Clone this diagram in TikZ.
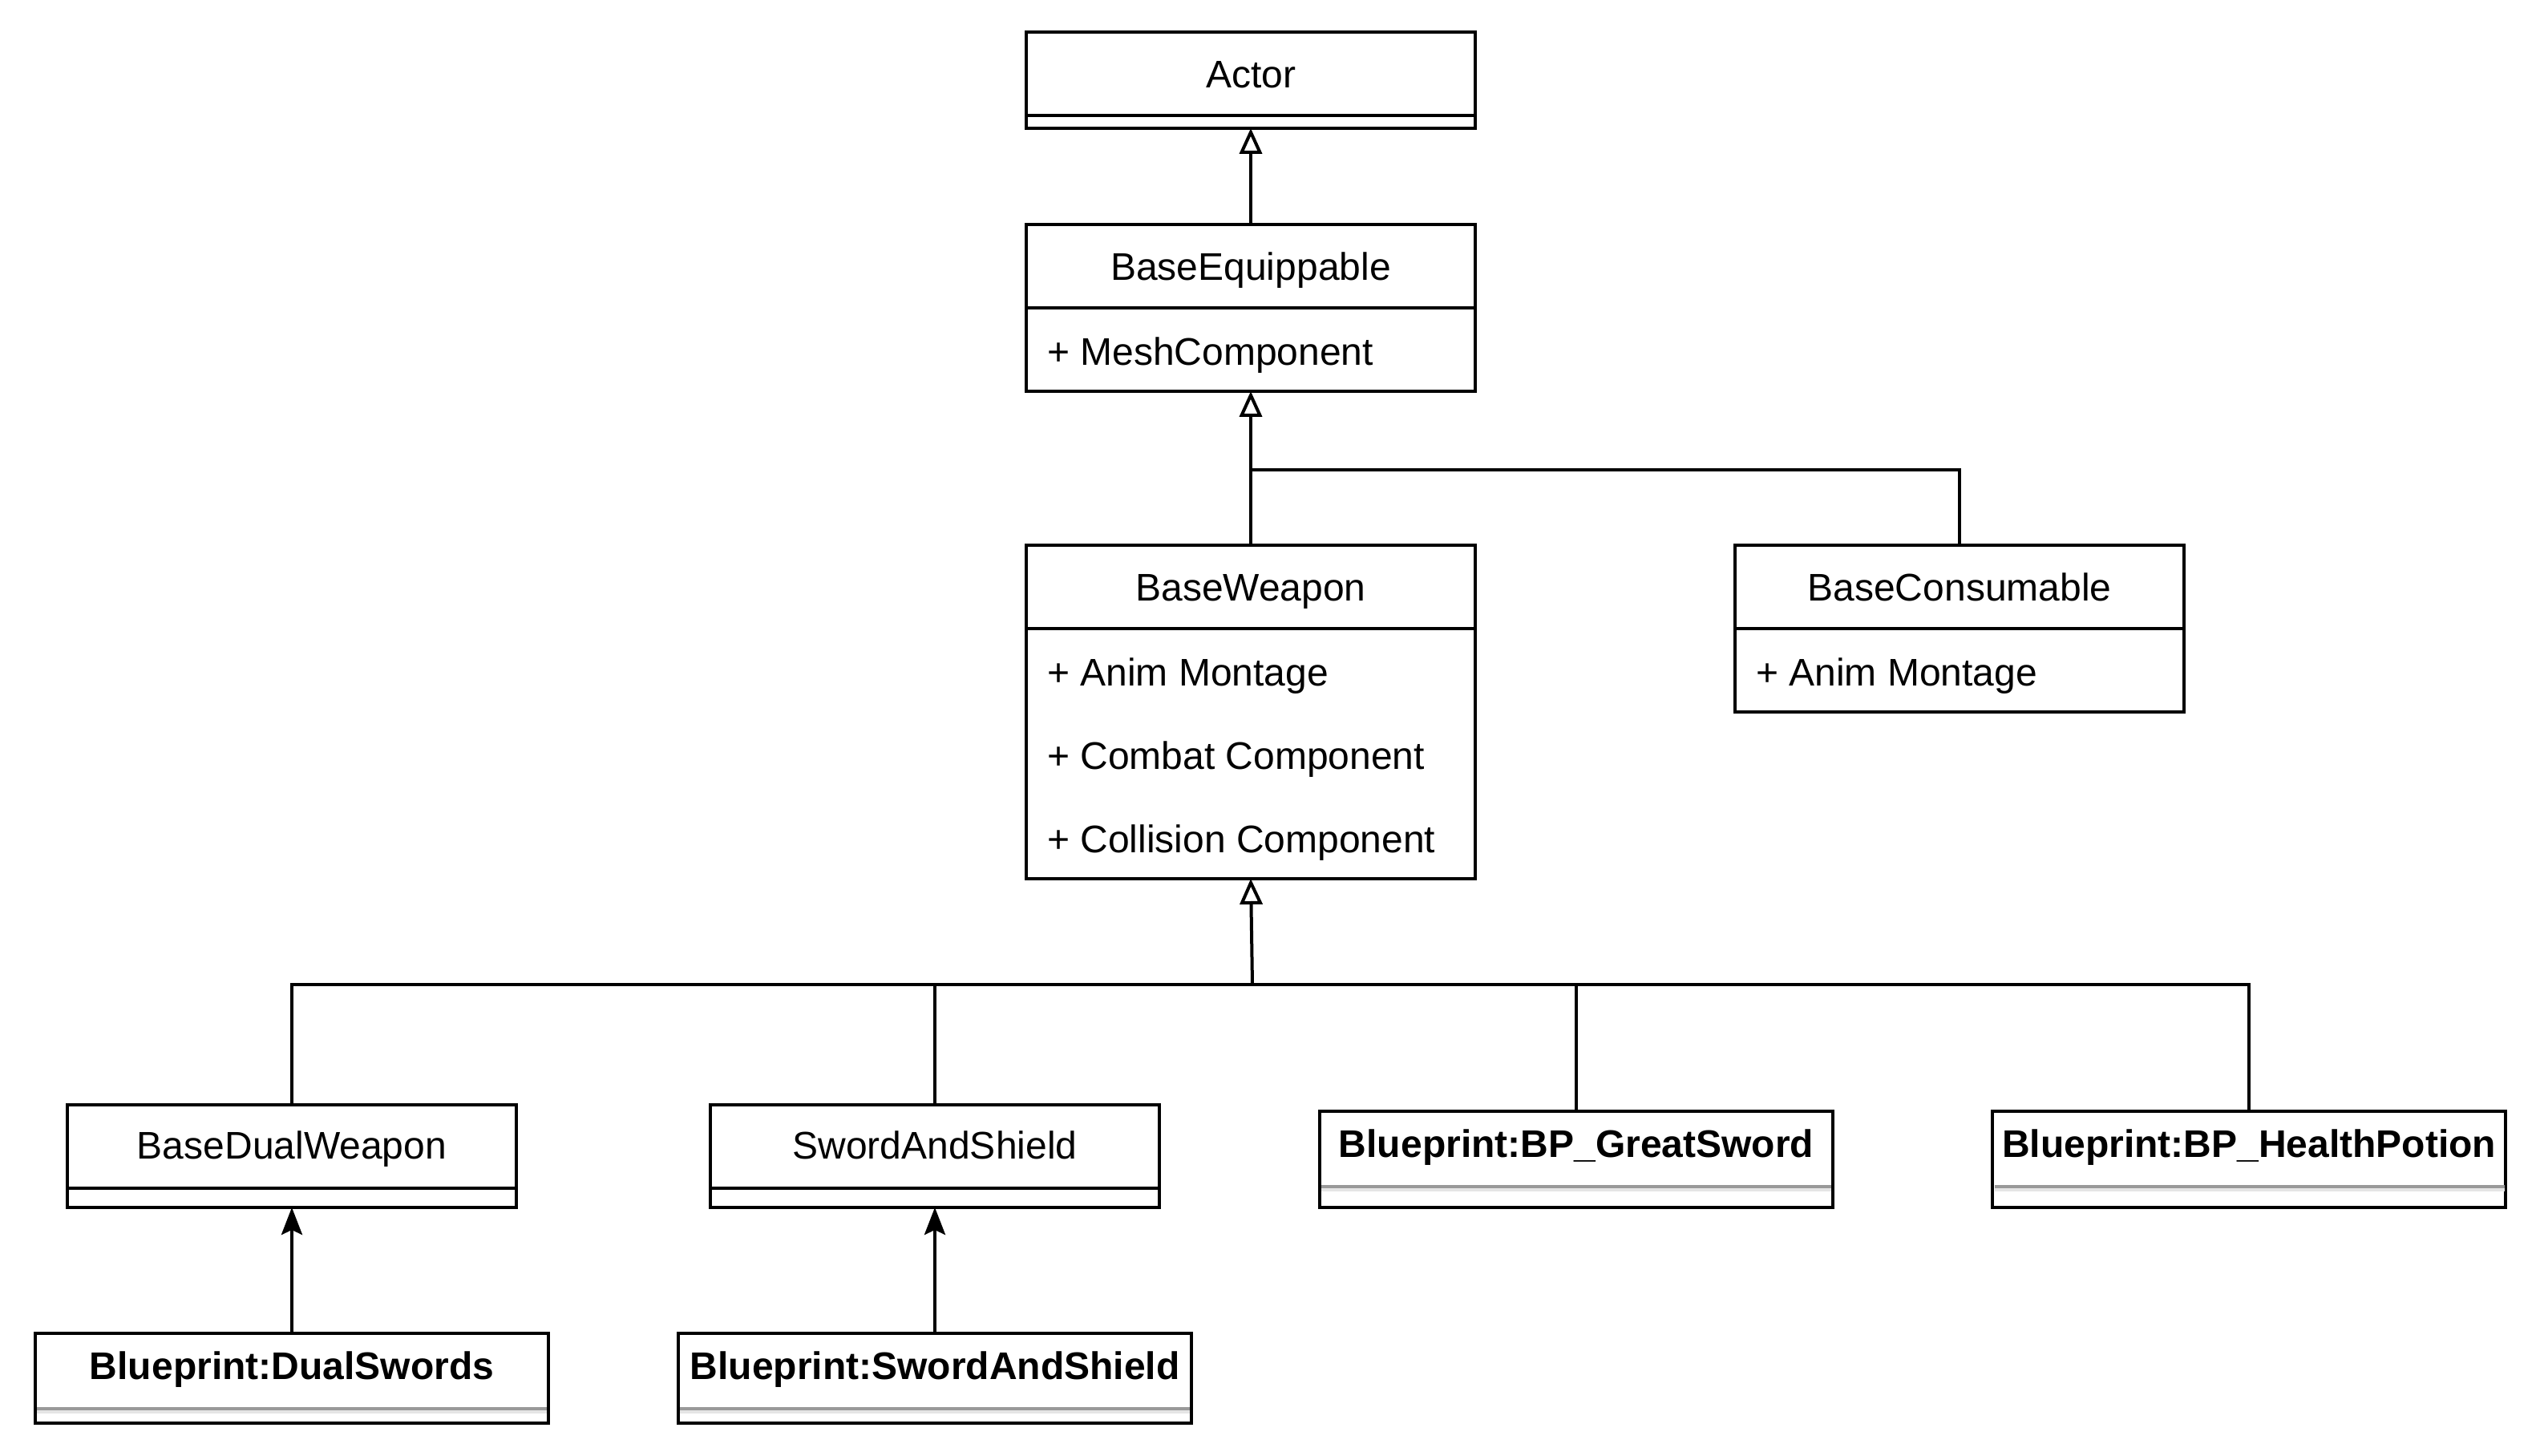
\documentclass[tikz,border=0pt]{standalone}
\usepackage{fontspec}
\setmainfont{Liberation Sans}
\usetikzlibrary{arrows.meta}
\begin{document}
\begin{tikzpicture}[x=1pt,y=-1pt,line width=1pt,
  box/.style={draw, line width=1pt, inner sep=0pt, outer sep=0pt, anchor=north west, fill=white},
  txt/.style={inner sep=0pt, text height=8.6pt, text depth=0pt, font=\fontsize{12pt}{14pt}\selectfont},
  btxt/.style={inner sep=0pt, text height=8.6pt, text depth=0pt, font=\fontsize{12pt}{14pt}\selectfont\bfseries},
  attr/.style={inner sep=0pt, text height=8.6pt, text depth=0pt, anchor=west, font=\fontsize{12pt}{14pt}\selectfont},
  inh/.style={-{Triangle[open,length=8pt,width=7pt]}},
  assoc/.style={-{Stealth[length=8.5pt,width=6.5pt,inset=1.5pt]}},
  sep/.style={line width=1pt},
  gsep/.style={line width=1pt, draw=black!40},
  lsep/.style={line width=1pt, draw=black!10}]
\useasboundingbox (0,0) rectangle (792,454);
% Actor
\node[box, minimum width=140pt, minimum height=30pt] (actor) at (320,10) {};
\draw[sep] (320,36) -- (460,36);
\node[txt] (actorT) at (390,23) {Actor};
% BaseEquippable
\node[box, minimum width=140pt, minimum height=52pt] (equip) at (320,70) {};
\draw[sep] (320,96) -- (460,96);
\node[txt] (equipT) at (390,83) {BaseEquippable};
\node[attr] (equipA) at (326,109.5) {+ MeshComponent};
% BaseWeapon
\node[box, minimum width=140pt, minimum height=104pt] (weapon) at (320,170) {};
\draw[sep] (320,196) -- (460,196);
\node[txt] (weaponT) at (390,183) {BaseWeapon};
\node[attr] (weaponA1) at (326,209.5) {+ Anim Montage};
\node[attr] (weaponA2) at (326,235.5) {+ Combat Component};
\node[attr] (weaponA3) at (326,261.5) {+ Collision Component};
% BaseConsumable
\node[box, minimum width=140pt, minimum height=52pt] (consum) at (541,170) {};
\draw[sep] (541,196) -- (681,196);
\node[txt] (consumT) at (611,183) {BaseConsumable};
\node[attr] (consumA) at (547,209.5) {+ Anim Montage};
% BaseDualWeapon
\node[box, minimum width=140pt, minimum height=32pt] (dual) at (21,344.5) {};
\draw[sep] (21,370.5) -- (161,370.5);
\node[txt] (dualT) at (91,357) {BaseDualWeapon};
% SwordAndShield
\node[box, minimum width=140pt, minimum height=32pt] (sas) at (221.5,344.5) {};
\draw[sep] (221.5,370.5) -- (361.5,370.5);
\node[txt] (sasT) at (291.5,357) {SwordAndShield};
% BP_GreatSword
\node[box, minimum width=160pt, minimum height=30pt] (gs) at (411.5,346.5) {};
\draw[gsep] (412,370) -- (571,370);
\draw[lsep] (412,371) -- (571,371);
\node[btxt] (gsT) at (491.5,356.5) {Blueprint:BP\_GreatSword};
% BP_HealthPotion
\node[box, minimum width=160pt, minimum height=30pt] (hp) at (621.3,346.5) {};
\draw[gsep] (622,370) -- (781,370);
\draw[lsep] (622,371) -- (781,371);
\node[btxt] (hpT) at (701.3,356.5) {Blueprint:BP\_HealthPotion};
% Blueprint:DualSwords
\node[box, minimum width=160pt, minimum height=28pt] (bpdual) at (11,415.7) {};
\draw[gsep] (11.5,439.2) -- (170.5,439.2);
\draw[lsep] (11.5,440.2) -- (170.5,440.2);
\node[btxt] (bpdualT) at (91,425.8) {Blueprint:DualSwords};
% Blueprint:SwordAndShield
\node[box, minimum width=160pt, minimum height=28pt] (bpsas) at (211.5,415.7) {};
\draw[gsep] (212,439.2) -- (371,439.2);
\draw[lsep] (212,440.2) -- (371,440.2);
\node[btxt] (bpsasT) at (291.5,425.8) {Blueprint:SwordAndShield};
% connectors
\coordinate (j1) at (390,146.5);
\coordinate (j2) at (390.5,307);
\draw[inh] (equip.north) -- (actor.south);
\draw[inh] (weapon.north) -- (equip.south);
\draw (consum.north) |- (j1);
\draw[inh] (j2) -- (weapon.south);
\draw (dual.north) |- (j2) -| (hp.north);
\draw (sas.north) -- (sas.north |- j2);
\draw (gs.north) -- (gs.north |- j2);
\draw[assoc] (bpdual.north) -- (dual.south);
\draw[assoc] (bpsas.north) -- (sas.south);
\end{tikzpicture}
\end{document}
